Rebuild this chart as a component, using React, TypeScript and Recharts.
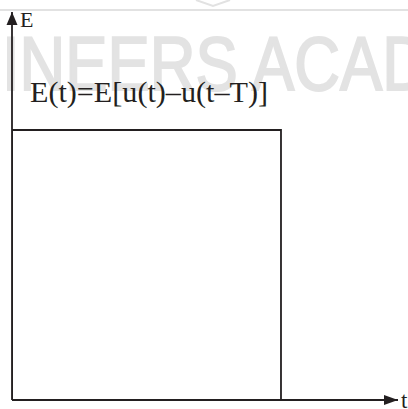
import { LineChart, Line, XAxis, YAxis, ReferenceDot, ReferenceLine } from "recharts";

// rectangular pulse E(t) = E[u(t) - u(t - T)], T = 1, E = 1
const tValues = [0, 0, 1, 1];
const eValues = [0, 1, 1, 0];
const tMax = 1.435;
const eMax = 1.437;
const formula = "E(t)=E[u(t)\u2013u(t\u2013T)]";

const data = tValues.map((t, i) => ({ t, e: eValues[i] }));

const INK = "#231f20";

const yArrow = (p: any) => (
  <g>
    <polygon
      points={`${p.cx},${p.cy} ${p.cx - 5.5},${p.cy + 13} ${p.cx + 5.5},${p.cy + 13}`}
      fill={INK}
    />
    <text
      x={p.cx + 8}
      y={p.cy + 15}
      fontFamily="Liberation Serif, serif"
      fontSize={22}
      fill={INK}
    >
      E
    </text>
  </g>
);

const xArrow = (p: any) => (
  <g>
    <polygon
      points={`${p.cx},${p.cy} ${p.cx - 14},${p.cy - 5} ${p.cx - 14},${p.cy + 5}`}
      fill={INK}
    />
    <text
      x={p.cx + 3}
      y={p.cy + 8}
      fontFamily="Liberation Serif, serif"
      fontSize={23}
      fill={INK}
    >
      t
    </text>
  </g>
);

const formulaLabel = (p: any) => (
  <text
    x={p.cx + 18}
    y={p.cy - 28}
    fontFamily="Liberation Serif, serif"
    fontSize={29}
    fill={INK}
    textLength={238}
    lengthAdjust="spacingAndGlyphs"
  >
    {formula}
  </text>
);

function Watermark() {
  return (
    <svg
      width={408}
      height={409}
      style={{ position: "absolute", left: 0, top: 0 }}
    >
      <polyline
        points="0,10 408,10"
        stroke="#e2e2e2"
        strokeWidth={2}
        fill="none"
      />
      <polyline
        points="196,0 213,6 230,0"
        stroke="#e2e2e2"
        strokeWidth={2}
        fill="none"
      />
      <text
        x={2}
        y={90}
        fontFamily="Liberation Sans, Arial, sans-serif"
        fontSize={76}
        fill="#e3e3e3"
        stroke="#e3e3e3"
        strokeWidth={2}
        textLength={426}
        lengthAdjust="spacingAndGlyphs"
      >
        INEERS ACAD
      </text>
    </svg>
  );
}

export default function App() {
  return (
    <div
      style={{
        position: "absolute",
        left: 0,
        top: 0,
        width: 408,
        height: 409,
        background: "#fff",
        overflow: "hidden",
      }}
    >
      <Watermark />
      <div style={{ position: "absolute", left: 0, top: 0 }}>
        <LineChart
          width={408}
          height={409}
          data={data}
          margin={{ top: 12, right: 10, bottom: 9, left: 12 }}
          style={{ overflow: "visible" }}
        >
          <XAxis
            dataKey="t"
            type="number"
            domain={[0, tMax]}
            allowDataOverflow
            hide
          />
          <YAxis
            type="number"
            domain={[0, eMax]}
            allowDataOverflow
            hide
          />
          <ReferenceLine x={0} stroke={INK} strokeWidth={1.8} />
          <ReferenceLine y={0} stroke={INK} strokeWidth={1.8} />
          <Line
            dataKey="e"
            type="linear"
            stroke={INK}
            strokeWidth={1.8}
            dot={false}
            activeDot={false}
            isAnimationActive={false}
          />
          <ReferenceDot x={0} y={eMax} shape={yArrow} />
          <ReferenceDot x={tMax} y={0} shape={xArrow} />
          <ReferenceDot x={0} y={1} shape={formulaLabel} />
        </LineChart>
      </div>
    </div>
  );
}
